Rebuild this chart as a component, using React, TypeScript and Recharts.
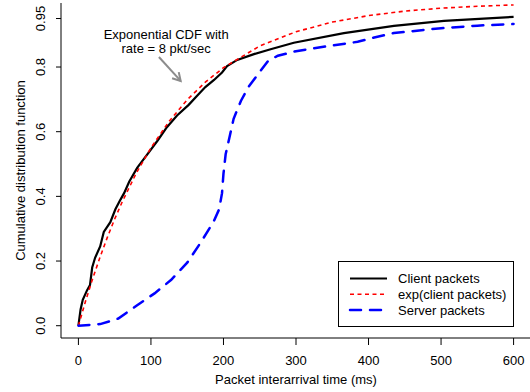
import React from 'react'
import {
  LineChart,
  Line,
  XAxis,
  YAxis,
  Legend,
  ReferenceLine,
  ReferenceDot
} from 'recharts'

// packet interarrival time (ms) vs cumulative fraction
const clientMs = [0, 3, 6, 12, 16, 19, 23, 30, 35, 44, 51, 58, 63, 70, 81, 95, 109, 122, 136, 152, 164, 175, 187, 198, 205, 219, 242, 265, 297, 366, 435, 504, 600]
const clientCdf = [0, 0.05, 0.08, 0.11, 0.126, 0.18, 0.21, 0.245, 0.29, 0.32, 0.36, 0.39, 0.41, 0.445, 0.488, 0.53, 0.572, 0.614, 0.65, 0.683, 0.712, 0.738, 0.76, 0.783, 0.803, 0.822, 0.84, 0.855, 0.875, 0.905, 0.927, 0.943, 0.955]

const expMs = [0, 10, 20, 30, 40, 50, 60, 80, 100, 125, 150, 175, 200, 250, 300, 350, 400, 450, 500, 550, 600]
const expCdf = [0, 0.077, 0.148, 0.213, 0.274, 0.33, 0.381, 0.473, 0.55, 0.632, 0.699, 0.753, 0.798, 0.865, 0.909, 0.939, 0.959, 0.973, 0.982, 0.988, 0.992]

const serverMs = [0, 30, 55, 80, 105, 128, 150, 168, 186, 194, 198, 200, 203, 208, 214, 224, 235, 250, 262, 275, 300, 345, 385, 405, 435, 500, 550, 600]
const serverCdf = [0, 0.005, 0.022, 0.062, 0.1, 0.142, 0.195, 0.255, 0.32, 0.36, 0.41, 0.47, 0.53, 0.58, 0.64, 0.695, 0.74, 0.785, 0.82, 0.835, 0.849, 0.865, 0.878, 0.89, 0.905, 0.92, 0.928, 0.933]

const xTicks = [0, 100, 200, 300, 400, 500, 600]
const yTicks = [0, 0.2, 0.4, 0.6, 0.8, 0.95]

const annotationLines = ['Exponential CDF with', 'rate = 8 pkt/sec']
const arrowFrom = { x: 111, y: 0.831 }
const arrowTo = { x: 141, y: 0.757 }
const annotationAt = { x: 121, y: 0.888 }

const toPoints = (xs: number[], ys: number[]) => xs.map((t, i) => ({ t, p: ys[i] }))

const series = [
  { name: 'Client packets', data: toPoints(clientMs, clientCdf), color: '#000000', width: 2.2, dash: undefined as string | undefined, cap: 'butt' },
  { name: 'exp(client packets)', data: toPoints(expMs, expCdf), color: '#ff0000', width: 1.6, dash: '4 3.5', cap: 'butt' },
  { name: 'Server packets', data: toPoints(serverMs, serverCdf), color: '#0000ff', width: 2.5, dash: '11 9', cap: 'round' }
]

const FONT = '"Liberation Sans", Arial, Helvetica, sans-serif'

const YTick = (props: any) => {
  const { x, y, payload } = props
  const v = payload.value as number
  const label = v === 0.95 ? '0.95' : v.toFixed(1)
  return (
    <text
      x={x}
      y={y}
      transform={`rotate(-90 ${x} ${y})`}
      textAnchor="middle"
      fontSize={13}
      fontFamily={FONT}
      fill="#000"
    >
      {label}
    </text>
  )
}

const Arrow = (props: any) => {
  const { x1, y1, x2, y2 } = props
  const ang = Math.atan2(y2 - y1, x2 - x1)
  const len = 9
  const spread = Math.PI / 6
  const ax = x2 - len * Math.cos(ang - spread)
  const ay = y2 - len * Math.sin(ang - spread)
  const bx = x2 - len * Math.cos(ang + spread)
  const by = y2 - len * Math.sin(ang + spread)
  return (
    <g stroke="#8c8c8c" strokeWidth={2} fill="none">
      <line x1={x1} y1={y1} x2={x2} y2={y2} />
      <polyline points={`${ax},${ay} ${x2},${y2} ${bx},${by}`} />
    </g>
  )
}

const Annotation = (props: any) => {
  const { cx, cy } = props
  return (
    <g>
      {annotationLines.map((s, i) => (
        <text
          key={s}
          x={cx}
          y={cy + i * 14.5}
          textAnchor="middle"
          fontSize={13}
          fontFamily={FONT}
          fill="#000"
        >
          {s}
        </text>
      ))}
    </g>
  )
}

const LegendBox = () => (
  <svg width={176} height={66} style={{ display: 'block' }}>
    <rect x={0.5} y={0.5} width={175} height={65} fill="#fff" stroke="#000" strokeWidth={1} />
    {series.map((s, i) => {
      const cy = 17.5 + i * 15.7
      return (
        <g key={s.name}>
          <line
            x1={12}
            x2={49}
            y1={cy}
            y2={cy}
            stroke={s.color}
            strokeWidth={s.width}
            strokeDasharray={s.dash}
            strokeLinecap={s.cap as any}
          />
          <text x={60} y={cy + 4.6} fontSize={13} fontFamily={FONT} fill="#000">
            {s.name}
          </text>
        </g>
      )
    })}
  </svg>
)

export default function App() {
  return (
    <div style={{ position: 'absolute', left: 0, top: 0, width: 530, height: 392, overflow: 'hidden', background: '#fff' }}>
      <LineChart width={531} height={392} margin={{ top: 3, right: 0, left: 11, bottom: 24 }}>
        <XAxis
          dataKey="t"
          type="number"
          domain={[-24, 624]}
          allowDataOverflow
          ticks={xTicks}
          interval={0}
          height={30}
          stroke="#000"
          tickSize={7}
          tickMargin={11}
          tick={{ fill: '#000', fontSize: 13, fontFamily: FONT }}
          label={{
            content: (p: any) => (
              <text
                x={p.viewBox.x + p.viewBox.width / 2}
                y={p.viewBox.y + 46}
                textAnchor="middle"
                fontSize={13}
                fontFamily={FONT}
                fill="#000"
              >
                Packet interarrival time (ms)
              </text>
            )
          }}
        />
        <XAxis xAxisId="top" orientation="top" type="number" domain={[0, 1]} height={0} tick={false} tickLine={false} stroke="#000" />
        <YAxis
          dataKey="p"
          type="number"
          domain={[-0.038, 0.998]}
          allowDataOverflow
          ticks={yTicks}
          interval={0}
          width={50}
          stroke="#000"
          tickSize={5}
          tickMargin={11}
          tick={<YTick />}
          label={{
            content: (p: any) => {
              const x = p.viewBox.x + 14
              const y = p.viewBox.y + p.viewBox.height / 2
              return (
                <text
                  x={x}
                  y={y}
                  transform={`rotate(-90 ${x} ${y})`}
                  textAnchor="middle"
                  fontSize={13}
                  fontFamily={FONT}
                  fill="#000"
                >
                  Cumulative distribution function
                </text>
              )
            }
          }}
        />
        {series.map((s) => (
          <Line
            key={s.name}
            data={s.data}
            dataKey="p"
            name={s.name}
            type="linear"
            stroke={s.color}
            strokeWidth={s.width}
            strokeDasharray={s.dash}
            strokeLinecap={s.cap as any}
            dot={false}
            activeDot={false}
            isAnimationActive={false}
          />
        ))}
        <ReferenceLine segment={[arrowFrom, arrowTo]} shape={<Arrow />} />
        <ReferenceDot x={annotationAt.x} y={annotationAt.y} r={0} shape={<Annotation />} />
        <Legend
          layout="vertical"
          align="center"
          verticalAlign="middle"
          wrapperStyle={{ left: 338, top: 261, width: 176, height: 66 }}
          content={() => <LegendBox />}
        />
      </LineChart>
    </div>
  )
}
